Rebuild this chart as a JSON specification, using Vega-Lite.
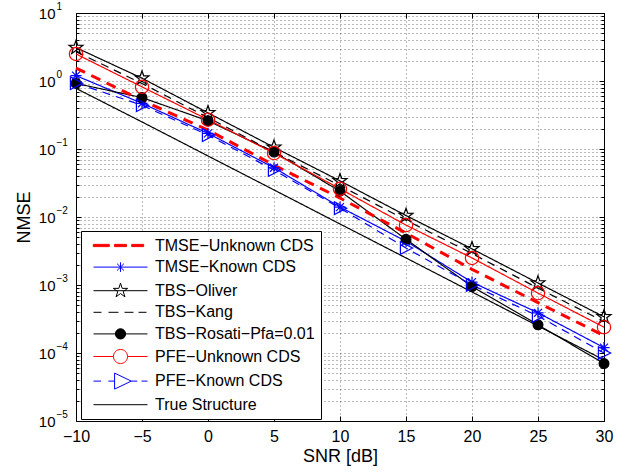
{
  "$schema": "https://vega.github.io/schema/vega-lite/v6.json",
  "width": 528,
  "height": 408,
  "autosize": {"type": "none"},
  "padding": {"left": 76, "top": 13, "right": 21, "bottom": 51},
  "background": "#ffffff",
  "data": {"values": [
    {"series": "TMSE−Unknown CDS", "snr": -10, "nmse": 1.55},
    {"series": "TMSE−Unknown CDS", "snr": -5, "nmse": 0.52},
    {"series": "TMSE−Unknown CDS", "snr": 0, "nmse": 0.19},
    {"series": "TMSE−Unknown CDS", "snr": 5, "nmse": 0.058},
    {"series": "TMSE−Unknown CDS", "snr": 10, "nmse": 0.019},
    {"series": "TMSE−Unknown CDS", "snr": 15, "nmse": 0.0058},
    {"series": "TMSE−Unknown CDS", "snr": 20, "nmse": 0.0017},
    {"series": "TMSE−Unknown CDS", "snr": 25, "nmse": 0.00055},
    {"series": "TMSE−Unknown CDS", "snr": 30, "nmse": 0.00018},
    {"series": "TMSE−Known CDS", "snr": -10, "nmse": 1.2},
    {"series": "TMSE−Known CDS", "snr": -5, "nmse": 0.47},
    {"series": "TMSE−Known CDS", "snr": 0, "nmse": 0.17},
    {"series": "TMSE−Known CDS", "snr": 5, "nmse": 0.053},
    {"series": "TMSE−Known CDS", "snr": 10, "nmse": 0.014},
    {"series": "TMSE−Known CDS", "snr": 15, "nmse": 0.0044},
    {"series": "TMSE−Known CDS", "snr": 20, "nmse": 0.0011},
    {"series": "TMSE−Known CDS", "snr": 25, "nmse": 0.00039},
    {"series": "TMSE−Known CDS", "snr": 30, "nmse": 0.00012},
    {"series": "TBS−Oliver", "snr": -10, "nmse": 3.1},
    {"series": "TBS−Oliver", "snr": -5, "nmse": 1.1},
    {"series": "TBS−Oliver", "snr": 0, "nmse": 0.34},
    {"series": "TBS−Oliver", "snr": 5, "nmse": 0.106},
    {"series": "TBS−Oliver", "snr": 10, "nmse": 0.034},
    {"series": "TBS−Oliver", "snr": 15, "nmse": 0.0105},
    {"series": "TBS−Oliver", "snr": 20, "nmse": 0.0034},
    {"series": "TBS−Oliver", "snr": 25, "nmse": 0.00107},
    {"series": "TBS−Oliver", "snr": 30, "nmse": 0.00034},
    {"series": "TBS−Kang", "snr": -10, "nmse": 2.7},
    {"series": "TBS−Kang", "snr": -5, "nmse": 0.92},
    {"series": "TBS−Kang", "snr": 0, "nmse": 0.29},
    {"series": "TBS−Kang", "snr": 5, "nmse": 0.09},
    {"series": "TBS−Kang", "snr": 10, "nmse": 0.029},
    {"series": "TBS−Kang", "snr": 15, "nmse": 0.009},
    {"series": "TBS−Kang", "snr": 20, "nmse": 0.0029},
    {"series": "TBS−Kang", "snr": 25, "nmse": 0.0009},
    {"series": "TBS−Kang", "snr": 30, "nmse": 0.00029},
    {"series": "TBS−Rosati−Pfa=0.01", "snr": -10, "nmse": 0.92},
    {"series": "TBS−Rosati−Pfa=0.01", "snr": -5, "nmse": 0.57},
    {"series": "TBS−Rosati−Pfa=0.01", "snr": 0, "nmse": 0.26},
    {"series": "TBS−Rosati−Pfa=0.01", "snr": 5, "nmse": 0.09},
    {"series": "TBS−Rosati−Pfa=0.01", "snr": 10, "nmse": 0.024},
    {"series": "TBS−Rosati−Pfa=0.01", "snr": 15, "nmse": 0.0047},
    {"series": "TBS−Rosati−Pfa=0.01", "snr": 20, "nmse": 0.00095},
    {"series": "TBS−Rosati−Pfa=0.01", "snr": 25, "nmse": 0.00026},
    {"series": "TBS−Rosati−Pfa=0.01", "snr": 30, "nmse": 0.00007},
    {"series": "PFE−Unknown CDS", "snr": -10, "nmse": 2.5},
    {"series": "PFE−Unknown CDS", "snr": -5, "nmse": 0.82},
    {"series": "PFE−Unknown CDS", "snr": 0, "nmse": 0.27},
    {"series": "PFE−Unknown CDS", "snr": 5, "nmse": 0.087},
    {"series": "PFE−Unknown CDS", "snr": 10, "nmse": 0.026},
    {"series": "PFE−Unknown CDS", "snr": 15, "nmse": 0.0076},
    {"series": "PFE−Unknown CDS", "snr": 20, "nmse": 0.0025},
    {"series": "PFE−Unknown CDS", "snr": 25, "nmse": 0.00076},
    {"series": "PFE−Unknown CDS", "snr": 30, "nmse": 0.00024},
    {"series": "PFE−Known CDS", "snr": -10, "nmse": 0.93},
    {"series": "PFE−Known CDS", "snr": -5, "nmse": 0.44},
    {"series": "PFE−Known CDS", "snr": 0, "nmse": 0.16},
    {"series": "PFE−Known CDS", "snr": 5, "nmse": 0.049},
    {"series": "PFE−Known CDS", "snr": 10, "nmse": 0.0135},
    {"series": "PFE−Known CDS", "snr": 15, "nmse": 0.0035},
    {"series": "PFE−Known CDS", "snr": 20, "nmse": 0.001},
    {"series": "PFE−Known CDS", "snr": 25, "nmse": 0.00035},
    {"series": "PFE−Known CDS", "snr": 30, "nmse": 0.0001},
    {"series": "True Structure", "snr": -10, "nmse": 0.78},
    {"series": "True Structure", "snr": -5, "nmse": 0.25},
    {"series": "True Structure", "snr": 0, "nmse": 0.079},
    {"series": "True Structure", "snr": 5, "nmse": 0.025},
    {"series": "True Structure", "snr": 10, "nmse": 0.0079},
    {"series": "True Structure", "snr": 15, "nmse": 0.0025},
    {"series": "True Structure", "snr": 20, "nmse": 0.00079},
    {"series": "True Structure", "snr": 25, "nmse": 0.00025},
    {"series": "True Structure", "snr": 30, "nmse": 0.000079}
  ]},
  "layer": [
    {
      "transform": [{"filter": "datum.series !== 'TMSE−Unknown CDS'"}],
      "mark": {"type": "line", "strokeWidth": 1.2},
      "encoding": {
        "x": {"field": "snr", "type": "quantitative", "scale": {"domain": [-10, 30], "nice": false},
          "axis": {"orient": "bottom", "values": [-10, -5, 0, 5, 10, 15, 20, 25, 30], "grid": true, "ticks": true, "tickSize": -5, "labelPadding": 12, "labelFontSize": 16, "labelFlush": false, "title": "SNR [dB]", "titleFontSize": 18, "titlePadding": 3, "domain": false}},
        "y": {"field": "nmse", "type": "quantitative", "scale": {"type": "log", "domain": [0.00001, 10], "nice": false},
          "axis": {"orient": "left", "values": [0.00001, 0.0001, 0.001, 0.01, 0.1, 1, 10], "grid": true, "ticks": true, "tickSize": -5, "labelExpr": "'10'", "labelPadding": 26, "labelFontSize": 15, "labelAlign": "right", "labelBaseline": "middle", "labelOverlap": false, "title": "NMSE", "titleFontSize": 18, "titlePadding": 5, "domain": false}},
        "stroke": {"field": "series", "type": "nominal", "legend": null,
          "scale": {"domain": ["TMSE−Unknown CDS", "TMSE−Known CDS", "TBS−Oliver", "TBS−Kang", "TBS−Rosati−Pfa=0.01", "PFE−Unknown CDS", "PFE−Known CDS", "True Structure"],
            "range": ["#ff0000", "#0000ff", "#000000", "#000000", "#000000", "#ff0000", "#0000ff", "#000000"]}},
        "strokeDash": {"field": "series", "type": "nominal", "legend": null,
          "scale": {"domain": ["TMSE−Unknown CDS", "TMSE−Known CDS", "TBS−Oliver", "TBS−Kang", "TBS−Rosati−Pfa=0.01", "PFE−Unknown CDS", "PFE−Known CDS", "True Structure"],
            "range": [[10, 7], [1, 0], [1, 0], [8, 6], [1, 0], [1, 0], [8, 6], [1, 0]]}}
      }
    },
    {
      "transform": [{"filter": "datum.series === 'TMSE−Unknown CDS'"}],
      "mark": {"type": "line", "stroke": "#ff0000", "strokeWidth": 3, "strokeDash": [10, 7]},
      "encoding": {
        "x": {"field": "snr", "type": "quantitative", "scale": {"domain": [-10, 30], "nice": false},
          "axis": {"orient": "top", "values": [-10, -5, 0, 5, 10, 15, 20, 25, 30], "grid": false, "ticks": true, "tickSize": -5, "labels": false, "title": null, "domain": false}},
        "y": {"field": "nmse", "type": "quantitative", "scale": {"type": "log", "domain": [0.00001, 10], "nice": false},
          "axis": {"orient": "left", "values": [0.00001, 0.0001, 0.001, 0.01, 0.1, 1, 10], "grid": false, "ticks": false, "labelExpr": "format(log(datum.value)/LN10, 'd')", "labelAlign": "left", "labelBaseline": "middle", "labelPadding": 20, "labelFontSize": 10, "labelOffset": -7, "labelOverlap": false, "title": null, "domain": false}}
      }
    },
    {
      "transform": [{"filter": "indexof(['TMSE−Known CDS','TBS−Oliver','TBS−Rosati−Pfa=0.01','PFE−Unknown CDS','PFE−Known CDS'], datum.series) >= 0"}],
      "mark": {"type": "point", "size": 196, "strokeWidth": 1.2, "opacity": 1},
      "encoding": {
        "x": {"field": "snr", "type": "quantitative", "scale": {"domain": [-10, 30], "nice": false}, "axis": null},
        "y": {"field": "nmse", "type": "quantitative", "scale": {"type": "log", "domain": [0.00001, 10], "nice": false},
          "axis": {"orient": "left", "values": [0.00002, 0.00003, 0.00004, 0.00005, 0.00006, 0.00007, 0.00008, 0.00009, 0.0002, 0.0003, 0.0004, 0.0005, 0.0006, 0.0007, 0.0008, 0.0009, 0.002, 0.003, 0.004, 0.005, 0.006, 0.007, 0.008, 0.009, 0.02, 0.03, 0.04, 0.05, 0.06, 0.07, 0.08, 0.09, 0.2, 0.3, 0.4, 0.5, 0.6, 0.7, 0.8, 0.9, 2, 3, 4, 5, 6, 7, 8, 9], "grid": true, "ticks": true, "tickSize": -3, "labels": false, "title": null, "domain": false}},
        "shape": {"field": "series", "type": "nominal", "legend": null,
          "scale": {"domain": ["TMSE−Known CDS", "TBS−Oliver", "TBS−Rosati−Pfa=0.01", "PFE−Unknown CDS", "PFE−Known CDS"],
            "range": [
              "M0,-0.8V0.8M-0.8,0H0.8M-0.57,-0.57L0.57,0.57M-0.57,0.57L0.57,-0.57",
              "M0,-1.05L0.247,-0.34L0.999,-0.324L0.399,0.13L0.617,0.849L0,0.42L-0.617,0.849L-0.399,0.13L-0.999,-0.324L-0.247,-0.34Z",
              "M0.7,0A0.7,0.7 0 1,1 -0.7,0A0.7,0.7 0 1,1 0.7,0Z",
              "M0.95,0A0.95,0.95 0 1,1 -0.95,0A0.95,0.95 0 1,1 0.95,0Z",
              "M-0.8,-0.9L0.95,0L-0.8,0.9Z"
            ]}},
        "stroke": {"field": "series", "type": "nominal", "legend": null,
          "scale": {"domain": ["TMSE−Unknown CDS", "TMSE−Known CDS", "TBS−Oliver", "TBS−Kang", "TBS−Rosati−Pfa=0.01", "PFE−Unknown CDS", "PFE−Known CDS", "True Structure"],
            "range": ["#ff0000", "#0000ff", "#000000", "#000000", "#000000", "#ff0000", "#0000ff", "#000000"]}},
        "fill": {"field": "series", "type": "nominal", "legend": null,
          "scale": {"domain": ["TMSE−Unknown CDS", "TMSE−Known CDS", "TBS−Oliver", "TBS−Kang", "TBS−Rosati−Pfa=0.01", "PFE−Unknown CDS", "PFE−Known CDS", "True Structure"],
            "range": ["#ff0000", "transparent", "transparent", "transparent", "#000000", "transparent", "transparent", "transparent"]}}
      }
    },
    {
      "transform": [{"filter": "datum.snr > 100"}],
      "mark": {"type": "point", "strokeWidth": 1, "opacity": 1},
      "encoding": {
        "x": {"field": "snr", "type": "quantitative", "scale": {"domain": [-10, 30], "nice": false}, "axis": null},
        "y": {"field": "nmse", "type": "quantitative", "scale": {"type": "log", "domain": [0.00001, 10], "nice": false},
          "axis": {"orient": "right", "values": [0.00001, 0.0001, 0.001, 0.01, 0.1, 1, 10], "grid": false, "ticks": true, "tickSize": -5, "labels": false, "title": null, "domain": false}},
        "shape": {"field": "series", "type": "nominal", "legend": {"title": null},
          "scale": {"domain": ["TMSE−Unknown CDS", "TMSE−Known CDS", "TBS−Oliver", "TBS−Kang", "TBS−Rosati−Pfa=0.01", "PFE−Unknown CDS", "PFE−Known CDS", "True Structure"],
            "range": [
              "M-3.4,-0.14H-1.4V0.14H-3.4ZM-0.75,-0.14H0.75V0.14H-0.75ZM1.4,-0.14H2.9V0.14H1.4Z",
              "M-3.375,0H3.375M0,-0.6V0.6M-0.43,-0.43L0.43,0.43M-0.43,0.43L0.43,-0.43",
              "M-3.375,0H3.375M0,-0.945L0.211,-0.29L0.898,-0.292L0.341,0.111L0.555,0.765L0,0.359L-0.555,0.765L-0.341,0.111L-0.898,-0.292L-0.211,-0.29Z",
              "M-3.375,0H-2.375M-1.5,0H-0.25M0.5,0H1.625M2.25,0H3.25",
              "M-3.375,0H3.375M0.64,0A0.64,0.64 0 1,1 -0.64,0A0.64,0.64 0 1,1 0.64,0Z",
              "M-3.375,0H-0.88M0.88,0H3.375M0.88,0A0.88,0.88 0 1,1 -0.88,0A0.88,0.88 0 1,1 0.88,0Z",
              "M-3.375,0H-2.43M-1.52,0H-0.74M1.35,0H2.1M2.63,0H3.375M-0.74,-1L1.35,0L-0.74,1Z",
              "M-3.375,0H3.375"
            ]}},
        "stroke": {"field": "series", "type": "nominal", "legend": {"title": null},
          "scale": {"domain": ["TMSE−Unknown CDS", "TMSE−Known CDS", "TBS−Oliver", "TBS−Kang", "TBS−Rosati−Pfa=0.01", "PFE−Unknown CDS", "PFE−Known CDS", "True Structure"],
            "range": ["#ff0000", "#0000ff", "#000000", "#000000", "#000000", "#ff0000", "#0000ff", "#000000"]}},
        "fill": {"field": "series", "type": "nominal", "legend": {"title": null},
          "scale": {"domain": ["TMSE−Unknown CDS", "TMSE−Known CDS", "TBS−Oliver", "TBS−Kang", "TBS−Rosati−Pfa=0.01", "PFE−Unknown CDS", "PFE−Known CDS", "True Structure"],
            "range": ["#ff0000", "transparent", "transparent", "transparent", "#000000", "transparent", "transparent", "transparent"]}}
      }
    },
    {
      "transform": [{"filter": "datum.snr > 100"}],
      "mark": {"type": "point", "opacity": 0},
      "encoding": {
        "x": {"field": "snr", "type": "quantitative", "scale": {"domain": [-10, 30], "nice": false}, "axis": null},
        "y": {"field": "nmse", "type": "quantitative", "scale": {"type": "log", "domain": [0.00001, 10], "nice": false},
          "axis": {"orient": "right", "values": [0.00002, 0.00003, 0.00004, 0.00005, 0.00006, 0.00007, 0.00008, 0.00009, 0.0002, 0.0003, 0.0004, 0.0005, 0.0006, 0.0007, 0.0008, 0.0009, 0.002, 0.003, 0.004, 0.005, 0.006, 0.007, 0.008, 0.009, 0.02, 0.03, 0.04, 0.05, 0.06, 0.07, 0.08, 0.09, 0.2, 0.3, 0.4, 0.5, 0.6, 0.7, 0.8, 0.9, 2, 3, 4, 5, 6, 7, 8, 9], "grid": false, "ticks": true, "tickSize": -3, "labels": false, "title": null, "domain": false}}
      }
    }
  ],
  "resolve": {
    "scale": {"shape": "independent", "stroke": "independent", "fill": "independent"},
    "axis": {"x": "independent", "y": "independent"}
  },
  "config": {
    "font": "Liberation Sans",
    "view": {"stroke": "#000000", "strokeWidth": 1},
    "axis": {"labelFont": "Liberation Sans", "titleFont": "Liberation Sans", "labelColor": "#000000", "titleColor": "#000000", "titleFontWeight": "normal", "tickColor": "#000000", "tickWidth": 1, "gridColor": "#000000", "gridDash": [1, 3], "gridOpacity": 0.55, "gridWidth": 1},
    "legend": {"orient": "none", "legendX": 5, "legendY": 218, "fillColor": "#ffffff", "strokeColor": "#000000", "padding": 6, "symbolSize": 256, "symbolStrokeWidth": 1, "symbolOffset": 25, "labelOffset": 26, "labelFont": "Liberation Sans", "labelFontSize": 16, "labelColor": "#000000", "labelLimit": 0, "rowPadding": 4.6, "symbolOpacity": 1}
  }
}
